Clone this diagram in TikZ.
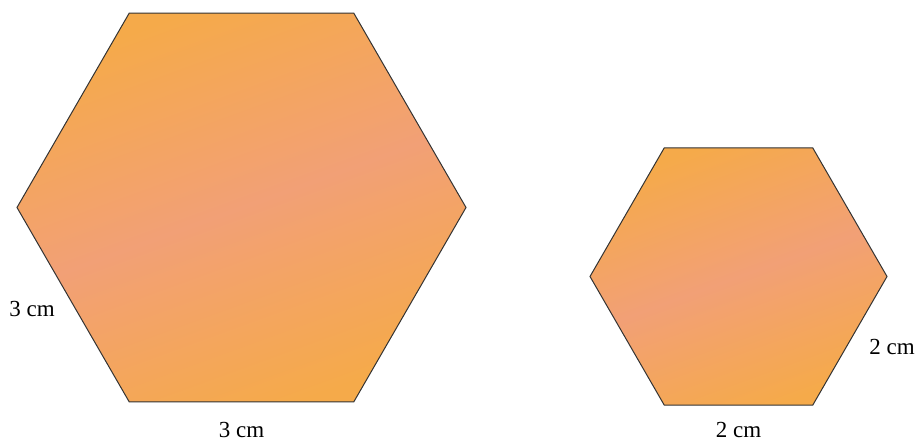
\documentclass[tikz,border=0pt]{standalone}
\usepackage{fontspec}
\setmainfont{Liberation Serif}
\usetikzlibrary{calc}
\colorlet{hexedge}{black!80}
\definecolor{hexorange}{RGB}{245,170,74}
\definecolor{hexpink}{RGB}{242,160,118}
\tikzstyle{hexagon}=[draw=hexedge,line width=1pt,line join=miter,left color=hexorange,right color=hexorange,middle color=hexpink,shading angle=20]
\tikzstyle{dimtext}=[font=\fontsize{23}{26}\selectfont,inner sep=0pt]

\begin{document}
\begin{tikzpicture}[x=1pt,y=1pt]
  \useasboundingbox (0,0) rectangle (917,441);
  \def\Rbig{224.5}   % circumradius of the large hexagon
  \def\Rsmall{148.5} % circumradius of the small hexagon
  \coordinate (cbig) at (241.5,233.5);
  \coordinate (csmall) at (738.5,164.5);

  % corners of both hexagons
  \foreach \i in {0,...,5} {
    \coordinate (b\i) at ($(cbig)+(60*\i:\Rbig)$);
    \coordinate (s\i) at ($(csmall)+(60*\i:\Rsmall)$);
  }

  % large hexagon, side 3 cm
  \draw[hexagon] (b0) -- (b1) -- (b2) -- (b3) -- (b4) -- (b5) -- cycle;
  % small hexagon, side 2 cm
  \draw[hexagon] (s0) -- (s1) -- (s2) -- (s3) -- (s4) -- (s5) -- cycle;

  % side labels
  \node[dimtext] (bigleft) at (32,132) {3 cm};
  \node[dimtext] (bigbottom) at (cbig |- 0,11) {3 cm};
  \node[dimtext] (smallright) at (892,94) {2 cm};
  \node[dimtext] (smallbottom) at (csmall |- 0,11) {2 cm};
\end{tikzpicture}
\end{document}
